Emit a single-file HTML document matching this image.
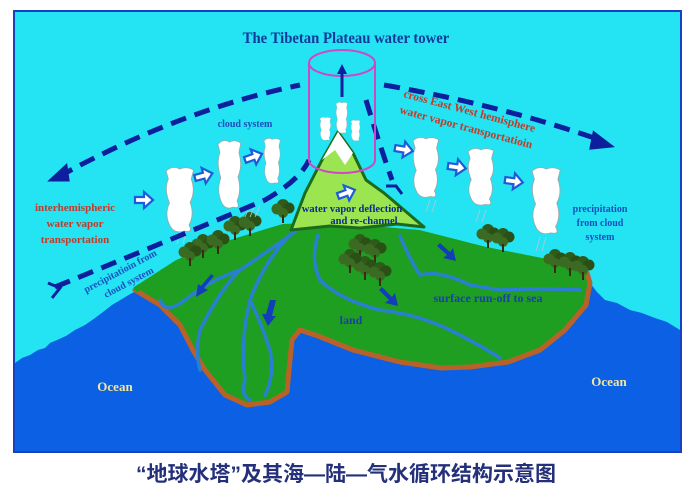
<!DOCTYPE html>
<html><head><meta charset="utf-8"><style>
html,body{margin:0;padding:0;background:#fff;}
svg{display:block;}
.t{font-family:"Liberation Serif",serif;font-weight:bold;}
</style></head><body>
<svg width="692" height="502" viewBox="0 0 692 502" xmlns="http://www.w3.org/2000/svg">
<defs>
<g id="cl"><path d="M0,4 Q6,-2 12,2 Q18,-1 24,3 L22,12 Q26,25 21,35 Q25,48 20,58 Q24,66 16,64 Q8,67 4,60 Q-2,48 3,36 Q-2,22 2,12 Z" fill="#fff" stroke="#9aa" stroke-width="0.8"/></g>
<g id="ha"><path d="M0,-3 L9,-3 L9,-8 L18,0 L9,8 L9,3 L0,3 Z" fill="#fff" stroke="#1d5bd8" stroke-width="2.2"/></g>
<g id="tr"><circle cx="0" cy="0" r="6" fill="#2f5a1a"/><circle cx="-6" cy="4" r="5.5" fill="#3b6b22"/><circle cx="6" cy="3" r="5.5" fill="#2a5016"/><circle cx="0" cy="8" r="5" fill="#3b6b22"/><rect x="-1" y="10" width="2" height="8" fill="#3a2a10"/></g>
</defs>
<rect width="692" height="502" fill="#fff"/>
<rect x="14" y="11" width="667" height="441" fill="#24e3f3" stroke="#1a3fc0" stroke-width="2"/>
<path d="M15,363 L22,358 L30,355 L38,350 L45,348 L50,343 L57,340 L66,336 L75,330 L85,325 L95,318 L103,312 L112,305 L122,299 L132,293 L140,290 L590,283 L597,292 L605,300 L617,303 L630,310 L642,313 L655,318 L667,322 L680,330 L680,451 L15,451 Z" fill="#0b60e3"/>
<path d="M135,290 L177,263 L199,253 L240,240 L283,227 L310,226 L360,228 L419,233 L486,250 L552,263 L587,273 L590,283 L586,305 L565,330 L540,350 L508,362 L470,367 L441,368 L400,362 L353,350 L318,336 L300,330 L292,340 L289,370 L287,392 L270,402 L247,405 L225,395 L205,370 L194,352 L180,325 L160,305 Z" fill="#1e9f22" stroke="#b8622a" stroke-width="5" stroke-linejoin="round"/>
<path d="M135,290 L177,263 L199,253 L240,240 L283,227 L310,226 L360,228 L419,233 L486,250 L552,263 L587,273" fill="none" stroke="#1e9f22" stroke-width="6"/>
<g fill="none" stroke="#2a7fd0" stroke-width="3.5" stroke-linecap="round">
<path d="M300,228 Q270,250 240,270 Q220,290 200,330 Q195,350 200,370"/>
<path d="M290,235 Q265,260 250,300 Q240,340 245,380 Q240,395 250,400"/>
<path d="M240,270 Q210,280 185,300 Q165,315 160,300"/>
<path d="M318,235 Q310,260 320,280 Q340,300 380,310 Q420,315 450,330 Q480,345 500,358"/>
<path d="M400,236 Q410,260 420,275 Q440,270 470,285 L500,290 Q540,288 580,290"/>
<path d="M250,300 Q260,320 270,350 Q275,375 265,395"/>
</g>
<path d="M291,230 L305,193 L322,160 L338,132 L353,153 L366,180 L384,193 L424,227 L397,224 L360,228 L330,226 Z" fill="#9be650" stroke="#1b6b1b" stroke-width="3" stroke-linejoin="round"/>
<path d="M322,160 L338,132 L353,153 L345,165 L335,150 Z" fill="#fff"/>
<use href="#tr" x="203" y="240"/><use href="#tr" x="218" y="236"/><use href="#tr" x="190" y="248"/>
<use href="#tr" x="235" y="222"/><use href="#tr" x="250" y="218"/><use href="#tr" x="283" y="205"/>
<use href="#tr" x="360" y="240"/><use href="#tr" x="375" y="245"/><use href="#tr" x="365" y="262"/><use href="#tr" x="380" y="268"/><use href="#tr" x="350" y="255"/>
<use href="#tr" x="488" y="230"/><use href="#tr" x="503" y="234"/><use href="#tr" x="555" y="255"/><use href="#tr" x="570" y="258"/><use href="#tr" x="583" y="262"/>
<g fill="#123fb8">
<path d="M214,276 L204,288 L208,290 L196,297 L198,284 L201,286 L211,274 Z"/>
<path d="M276,300 L272,316 L276,316 L268,326 L262,314 L266,314 L270,300 Z"/>
<path d="M382,287 L392,297 L395,293 L398,306 L385,303 L389,300 L379,290 Z"/>
<path d="M440,243 L450,252 L453,248 L456,261 L443,258 L447,255 L437,246 Z"/>
</g>
<use href="#cl" transform="translate(166,167) scale(1.15,1.0)"/>
<use href="#cl" transform="translate(218,140) scale(0.95,1.05)"/>
<use href="#cl" transform="translate(264,138) scale(0.68,0.7)"/>
<use href="#cl" transform="translate(413,137) scale(1.07,0.93)"/>
<use href="#cl" transform="translate(468,148) scale(1.07,0.88)"/>
<use href="#cl" transform="translate(532,167) scale(1.18,1.03)"/>
<use href="#cl" transform="translate(320,117) scale(0.45,0.36)"/>
<use href="#cl" transform="translate(336,102) scale(0.48,0.48)"/>
<use href="#cl" transform="translate(351,120) scale(0.38,0.32)"/>
<g stroke="#b0c8d8" stroke-width="0.8">
<path d="M250,205 l-5,12 M255,205 l-5,12 M260,205 l-5,12 M430,200 l-4,12 M436,200 l-4,12 M480,210 l-4,12 M486,210 l-4,12 M540,237 l-4,14 M546,237 l-4,14 M180,232 l-3,12 M186,232 l-3,12"/>
</g>
<use href="#ha" transform="translate(135,200)"/>
<use href="#ha" transform="translate(195,178) rotate(-15)"/>
<use href="#ha" transform="translate(245,160) rotate(-20)"/>
<use href="#ha" transform="translate(395,148) rotate(10)"/>
<use href="#ha" transform="translate(448,166) rotate(8)"/>
<use href="#ha" transform="translate(505,180) rotate(8)"/>
<use href="#ha" transform="translate(338,196) rotate(-20)"/>
<g fill="none" stroke="#0d1f9c" stroke-width="5" stroke-dasharray="16,9">
<path d="M58,177 Q180,110 300,85"/>
<path d="M384,85 Q500,105 600,140"/>
<path d="M55,287 Q170,240 265,200 Q300,180 309,160"/>
<path d="M366,100 Q378,140 392,180"/>
</g>
<path d="M51,180 L66,166 L68,180 Z" fill="#0d1f9c" stroke="#0d1f9c" stroke-width="3"/>
<path d="M611,146 L594,133 L591,148 Z" fill="#0d1f9c" stroke="#0d1f9c" stroke-width="3"/>
<path d="M48,283 L60,288 L52,298" fill="none" stroke="#0d1f9c" stroke-width="3"/>
<path d="M386,186 L396,186 L402,194" fill="none" stroke="#0d1f9c" stroke-width="3"/>
<g fill="none" stroke="#d046c8" stroke-width="2">
<ellipse cx="342" cy="63" rx="33" ry="13"/>
<path d="M309,63 L309,160 M375,63 L375,160"/>
<path d="M309,160 A33,13 0 0 0 375,160"/>
</g>
<path d="M342,97 L342,72" stroke="#0d1f9c" stroke-width="3"/>
<path d="M337,74 L342,64 L347,74 Z" fill="#0d1f9c"/>
<text class="t" x="346" y="43" font-size="16" fill="#123a9a" text-anchor="middle" transform="translate(346,0) scale(0.92,1) translate(-346,0)">The Tibetan Plateau water tower</text>
<text class="t" x="245" y="127" font-size="10" fill="#1a4fbf" text-anchor="middle">cloud system</text>
<g class="t" font-size="11.5" fill="#c43a28">
<text transform="translate(403,97) rotate(15)">cross East West hemisphere</text>
<text transform="translate(399,113) rotate(15)">water vapor transportatioin</text>
</g>
<g class="t" font-size="11" fill="#c43a28" text-anchor="middle">
<text x="75" y="211">interhemispheric</text>
<text x="75" y="227">water vapor</text>
<text x="75" y="243">transportation</text>
</g>
<g class="t" font-size="10" fill="#1a4fbf" text-anchor="middle">
<text x="600" y="212">precipitation</text>
<text x="600" y="226">from cloud</text>
<text x="600" y="240">system</text>
</g>
<g class="t" font-size="10" fill="#1a4fbf">
<text transform="translate(86,293) rotate(-28)">precipitatioin from</text>
<text transform="translate(106,298) rotate(-28)">cloud system</text>
</g>
<g class="t" font-size="10.5" fill="#0d2a8a" text-anchor="middle">
<text x="352" y="212">water vapor deflection</text>
<text x="364" y="224">and re-channel</text>
</g>
<text class="t" x="488" y="302" font-size="12" fill="#1a3fa8" text-anchor="middle">surface run-off to sea</text>
<text class="t" x="351" y="324" font-size="12" fill="#1a3fa8" text-anchor="middle">land</text>
<text class="t" x="115" y="391" font-size="13" fill="#f3e6a0" text-anchor="middle">Ocean</text>
<text class="t" x="609" y="386" font-size="13" fill="#f3e6a0" text-anchor="middle">Ocean</text>
<text x="346" y="481" font-size="21" font-weight="bold" fill="#25307a" text-anchor="middle" font-family="'Liberation Sans','Noto Sans CJK SC',sans-serif">“地球水塔”及其海—陆—气水循环结构示意图</text>
</svg>
</body></html>
